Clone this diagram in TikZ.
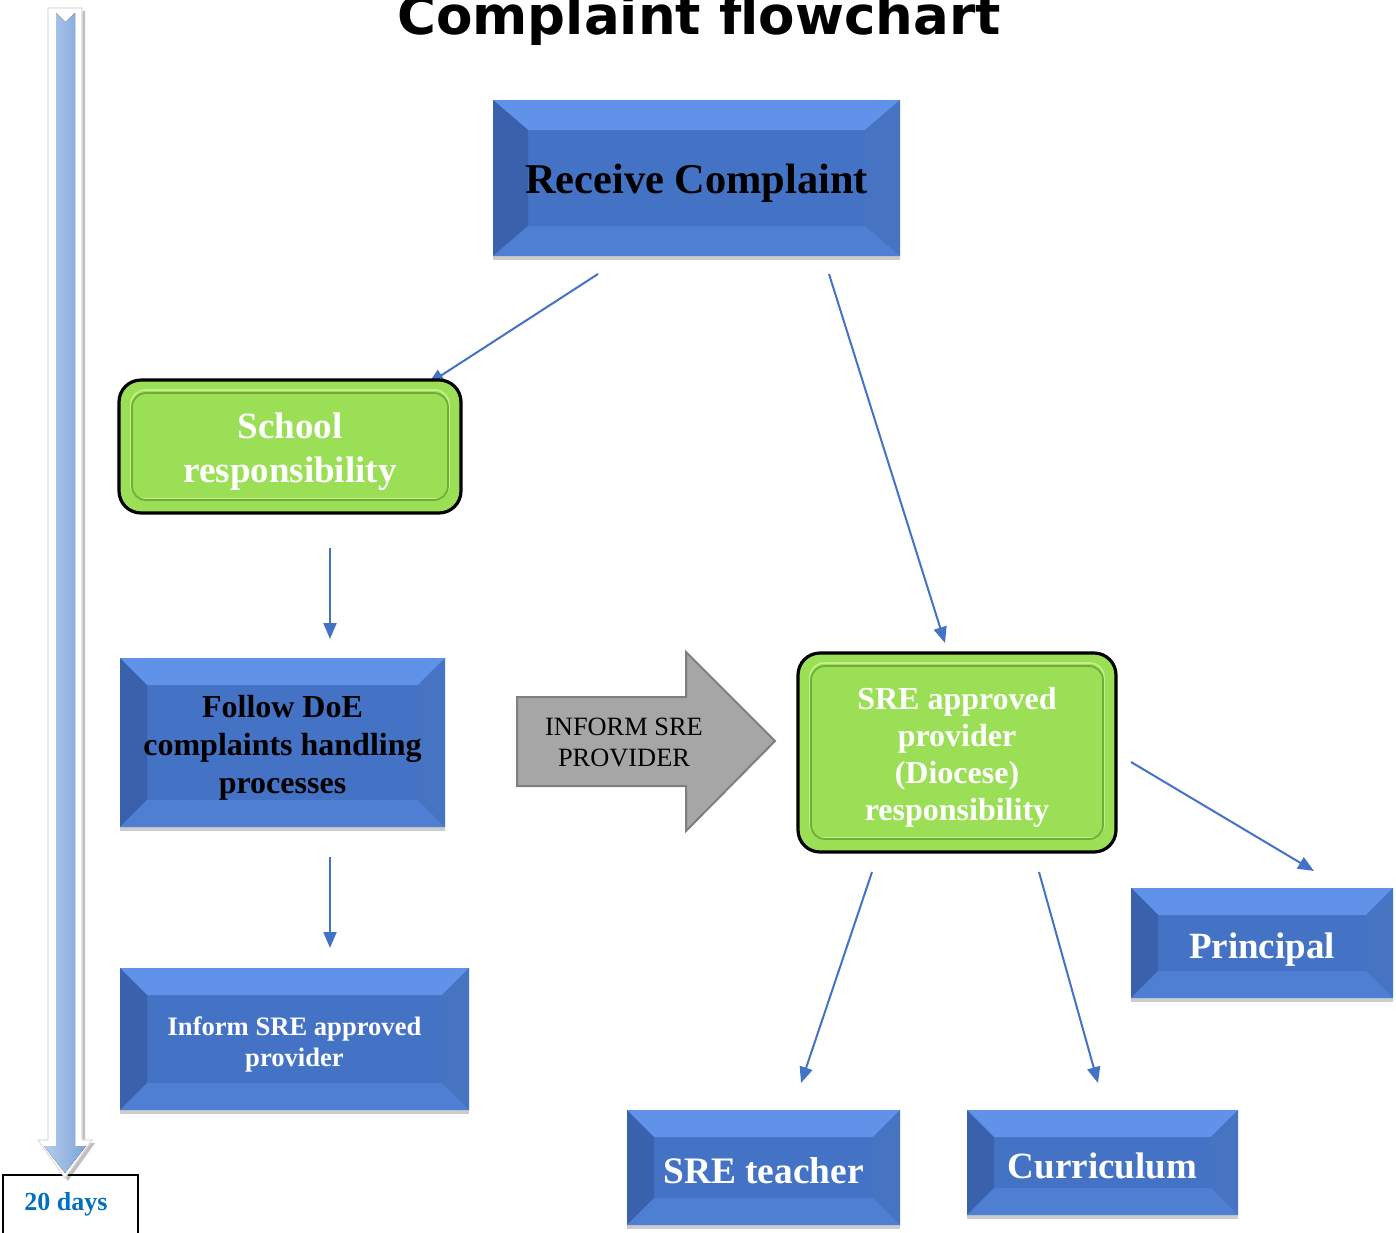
\documentclass[tikz,border=0pt]{standalone}
\usepackage{fontspec}
\setmainfont{Liberation Serif}
\newfontfamily\titlefont{DejaVu Sans}
\usetikzlibrary{arrows.meta,shadows}
\definecolor{boxblue}{HTML}{4472C4}
\definecolor{bevtop}{HTML}{5F92E8}
\definecolor{bevleft}{HTML}{3A62AC}
\definecolor{bevright}{HTML}{4673C2}
\definecolor{bevbot}{HTML}{4F7FD2}
\definecolor{lgreen}{HTML}{9BDF57}
\definecolor{dgreen}{HTML}{6FAE33}
\definecolor{hgreen}{HTML}{C2F090}
\definecolor{linkblue}{HTML}{4472C4}
\definecolor{arrgray}{HTML}{A6A6A6}
\definecolor{arrgrayd}{HTML}{7F7F7F}
\definecolor{daysblue}{HTML}{0070C0}
\definecolor{tlblueA}{HTML}{B3CDEE}
\definecolor{tlblueB}{HTML}{7FA4D6}
\newcommand{\fsz}[2]{\fontsize{#1}{#2}\selectfont}
\tikzset{
  bevx/.store in=\bevx, bevx=13.5pt,
  bevy/.store in=\bevy, bevy=13.5pt,
  bevelbox/.style={rectangle, inner sep=0pt, fill=boxblue,
    drop shadow={shadow xshift=0pt, shadow yshift=-2pt, opacity=0.2, fill=black},
    path picture={
      \path (path picture bounding box.north west) coordinate (bnw)
            (path picture bounding box.north east) coordinate (bne)
            (path picture bounding box.south west) coordinate (bsw)
            (path picture bounding box.south east) coordinate (bse);
      \fill[bevtop] (bnw) -- (bne) -- ([xshift=-\bevx,yshift=-\bevy]bne) -- ([xshift=\bevx,yshift=-\bevy]bnw) -- cycle;
      \fill[bevleft] (bnw) -- ([xshift=\bevx,yshift=-\bevy]bnw) -- ([xshift=\bevx,yshift=\bevy]bsw) -- (bsw) -- cycle;
      \fill[bevright] (bne) -- ([xshift=-\bevx,yshift=-\bevy]bne) -- ([xshift=-\bevx,yshift=\bevy]bse) -- (bse) -- cycle;
      \fill[bevbot] (bsw) -- ([xshift=\bevx,yshift=\bevy]bsw) -- ([xshift=-\bevx,yshift=\bevy]bse) -- (bse) -- cycle;
    }},
  greenbox/.style={rectangle, rounded corners=11pt, draw=black, line width=1.6pt,
    fill=lgreen, inner sep=0pt,
    path picture={
      \draw[hgreen, line width=0.8pt, rounded corners=7pt]
        ([xshift=6pt,yshift=-5pt]path picture bounding box.north west) rectangle
        ([xshift=-6pt,yshift=7pt]path picture bounding box.south east);
      \draw[dgreen, line width=0.9pt, rounded corners=7pt]
        ([xshift=6.5pt,yshift=-6.5pt]path picture bounding box.north west) rectangle
        ([xshift=-6.5pt,yshift=6.5pt]path picture bounding box.south east);
    }},
  txt/.style={align=center, inner sep=0pt},
  conn/.style={draw=linkblue, line width=1pt, -{Triangle[length=8pt,width=6.5pt]}},
}
\begin{document}
\begin{tikzpicture}[x=0.5pt,y=-0.5pt]
\useasboundingbox (0,0) rectangle (1396,1232);
\fill[white] (0,0) rectangle (1396,1232);

% title
\node[anchor=base, font={\titlefont\bfseries\fsz{26.5pt}{30pt}}] (title) at (699,34) {Complaint flowchart};

% connector end points
\coordinate (c1s) at (598,274); \coordinate (c1e) at (428,384);
\coordinate (c2s) at (829,274); \coordinate (c2e) at (945,643);
\coordinate (c3s) at (330,548); \coordinate (c3e) at (330,639);
\coordinate (c4s) at (330,857); \coordinate (c4e) at (330,948);
\coordinate (c5s) at (1131,762); \coordinate (c5e) at (1314,871);
\coordinate (c6s) at (872,872); \coordinate (c6e) at (801,1083);
\coordinate (c7s) at (1039,872); \coordinate (c7e) at (1098,1083);
\foreach \i in {1,...,7} {\draw[conn] (c\i s) -- (c\i e);}

% blue bevel boxes
\node[bevelbox, bevx=17.5pt, bevy=15pt, minimum width=203.5pt, minimum height=78pt] (recv) at (696.5,178) {};
\node[bevelbox, minimum width=162.5pt, minimum height=84.5pt] (follow) at (282.5,742.5) {};
\node[bevelbox, minimum width=174.5pt, minimum height=71pt] (inform) at (294.5,1039) {};
\node[bevelbox, minimum width=131pt, minimum height=55pt] (principal) at (1262,943) {};
\node[bevelbox, minimum width=136.5pt, minimum height=57.5pt] (teacher) at (763.5,1167.5) {};
\node[bevelbox, minimum width=135.5pt, minimum height=52.5pt] (curric) at (1102.5,1162.5) {};

\node[txt, font={\bfseries\fsz{21.2pt}{25pt}}] (recvT) at ([yshift=-2.5pt]recv.center) {Receive Complaint};
\node[txt, font={\bfseries\fsz{16pt}{19pt}}] (followT) at ([yshift=-2.5pt]follow.center) {Follow DoE\\complaints handling\\processes};
\node[txt, text=white, font={\bfseries\fsz{13.3pt}{15.5pt}}] (informT) at ([yshift=-2.5pt]inform.center) {Inform SRE approved\\provider};
\node[txt, text=white, font={\bfseries\fsz{18.5pt}{22pt}}] (principalT) at ([yshift=-3.5pt]principal.center) {Principal};
\node[txt, text=white, font={\bfseries\fsz{18.7pt}{22pt}}] (teacherT) at ([yshift=-1.5pt]teacher.center) {SRE teacher};
\node[txt, text=white, font={\bfseries\fsz{18.5pt}{22pt}}] (curricT) at ([yshift=-1.5pt]curric.center) {Curriculum};

% green boxes
\node[greenbox, minimum width=171pt, minimum height=66.5pt] (school) at (290,446.5) {};
\node[greenbox, minimum width=159pt, minimum height=99.5pt] (sre) at (957,752.5) {};
\node[txt, text=white, font={\bfseries\fsz{18.5pt}{22pt}}] (schoolT) at ([yshift=-2.5pt]school.center) {School\\responsibility};
\node[txt, text=white, font={\bfseries\fsz{16pt}{18.5pt}}] (sreT) at ([yshift=-2.5pt]sre.center) {SRE approved\\provider\\(Diocese)\\responsibility};

% inform arrow
\filldraw[fill=arrgray, draw=arrgrayd, line width=1pt]
  (517,697) -- (686,697) -- (686,652) -- (775,741) -- (686,831) -- (686,786) -- (517,786) -- cycle;
\node[txt, font={\fsz{13.2pt}{15.5pt}}] (informtxt) at (624,742) {INFORM SRE\\PROVIDER};

% 20 days box
\node[draw=black, line width=0.8pt, fill=white, minimum width=67.5pt, minimum height=30pt,
  inner sep=0pt] (days) at (70.5,1205) {};
\node[txt, text=daysblue, font={\bfseries\fsz{13pt}{15pt}}] (daysT) at (66,1204) {20 days};

% timeline arrow
\filldraw[fill=white, draw=black!12, line width=0.6pt,
  drop shadow={shadow xshift=1.5pt, shadow yshift=-1.5pt, opacity=0.25, fill=black}]
  (48,8) -- (82,8) -- (82,1140) -- (92,1140) -- (65,1178) -- (38,1140) -- (48,1140) -- cycle;
\fill[left color=tlblueA, right color=tlblueB]
  (56,13) -- (65.5,22) -- (75,13) -- (75,1146) -- (86,1146) -- (65,1173) -- (44,1146) -- (56,1146) -- cycle;
\end{tikzpicture}
\end{document}
